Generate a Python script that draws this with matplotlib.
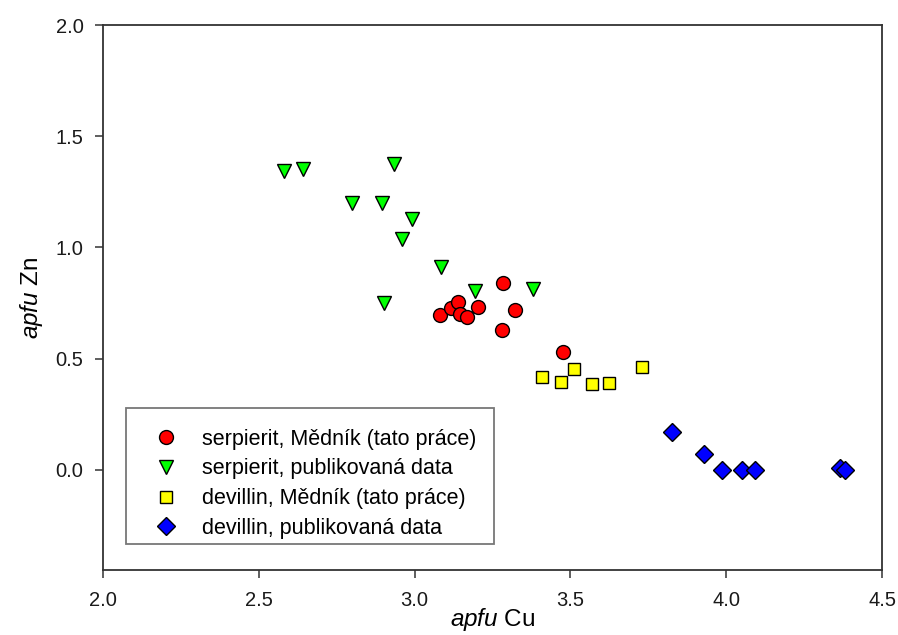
import matplotlib
matplotlib.use("Agg")
import matplotlib.pyplot as plt
from matplotlib.patches import Rectangle

plt.rcParams['font.family'] = ['Liberation Sans', 'DejaVu Sans']
plt.rcParams['mathtext.fontset'] = 'custom'
plt.rcParams['mathtext.rm'] = 'Liberation Sans'
plt.rcParams['mathtext.it'] = 'Liberation Sans:italic'

# serpierit, Mědník (tato práce)
serp_cu = [3.080, 3.116, 3.140, 3.146, 3.168, 3.203, 3.283, 3.323, 3.281, 3.477]
serp_zn = [0.698, 0.728, 0.753, 0.700, 0.688, 0.732, 0.842, 0.720, 0.628, 0.528]

# serpierit, publikovaná data
serp_pub_cu = [2.581, 2.641, 2.934, 2.800, 2.896, 2.992, 2.961, 3.084, 3.194, 3.379, 2.902]
serp_pub_zn = [1.345, 1.352, 1.376, 1.198, 1.198, 1.128, 1.036, 0.914, 0.806, 0.814, 0.752]

# devillin, Mědník (tato práce)
dev_cu = [3.408, 3.471, 3.511, 3.569, 3.624, 3.730]
dev_zn = [0.418, 0.393, 0.454, 0.384, 0.389, 0.463]

# devillin, publikovaná data
dev_pub_cu = [3.826, 3.928, 3.987, 4.051, 4.092, 4.365, 4.380]
dev_pub_zn = [0.172, 0.070, 0.0, 0.0, 0.0, 0.008, 0.0]

labels = ["serpierit, Mědník (tato práce)", "serpierit, publikovaná data",
          "devillin, Mědník (tato práce)", "devillin, publikovaná data"]

fig = plt.figure(figsize=(8.98, 6.35), dpi=100)
ax = fig.add_axes([0.1147, 0.1024, 0.8675, 0.8582])

kw = dict(linestyle='none', markeredgecolor='black', markeredgewidth=1.0)
ax.plot(serp_cu, serp_zn, marker='o', markersize=10, markerfacecolor='#ff0000', label=labels[0], **kw)
ax.plot(serp_pub_cu, serp_pub_zn, marker='v', markersize=10.5, markerfacecolor='#00ff00', label=labels[1], **kw)
ax.plot(dev_cu, dev_zn, marker='s', markersize=9, markerfacecolor='#ffff00', label=labels[2], **kw)
ax.plot(dev_pub_cu, dev_pub_zn, marker='D', markersize=9, markerfacecolor='#0000ff', label=labels[3], **kw)

ax.set_xlim(2.0, 4.5)
ax.set_ylim(-0.45, 2.0)
ax.set_xticks([2.0, 2.5, 3.0, 3.5, 4.0, 4.5])
ax.set_yticks([0.0, 0.5, 1.0, 1.5, 2.0])
ax.tick_params(direction='out', length=6, width=1.1, labelsize=14.5, colors='#333333',
               labelcolor='#1a1a1a', top=False, right=False)
ax.tick_params(axis='x', pad=9)
ax.tick_params(axis='y', pad=8)
for s in ax.spines.values():
    s.set_linewidth(1.3)
    s.set_color('#333333')

ax.set_xlabel(r"$\it{apfu}$ Cu", fontsize=17.5, labelpad=-3)
ax.set_ylabel(r"$\it{apfu}$ Zn", fontsize=17.5, labelpad=8)

# legend frame
ax.add_patch(Rectangle((0.0295, 0.0477), 0.4725, 0.2493, transform=ax.transAxes,
                       facecolor='white', edgecolor='#777777', linewidth=1.3, zorder=4))
leg = ax.legend(loc='upper left', bbox_to_anchor=(0.0533, 0.2596), fontsize=15.5,
                frameon=False, borderpad=0, handletextpad=0.67, labelspacing=0.41,
                handlelength=2.0, borderaxespad=0)
leg.set_zorder(5)

fig.savefig("out.png", dpi=100)
